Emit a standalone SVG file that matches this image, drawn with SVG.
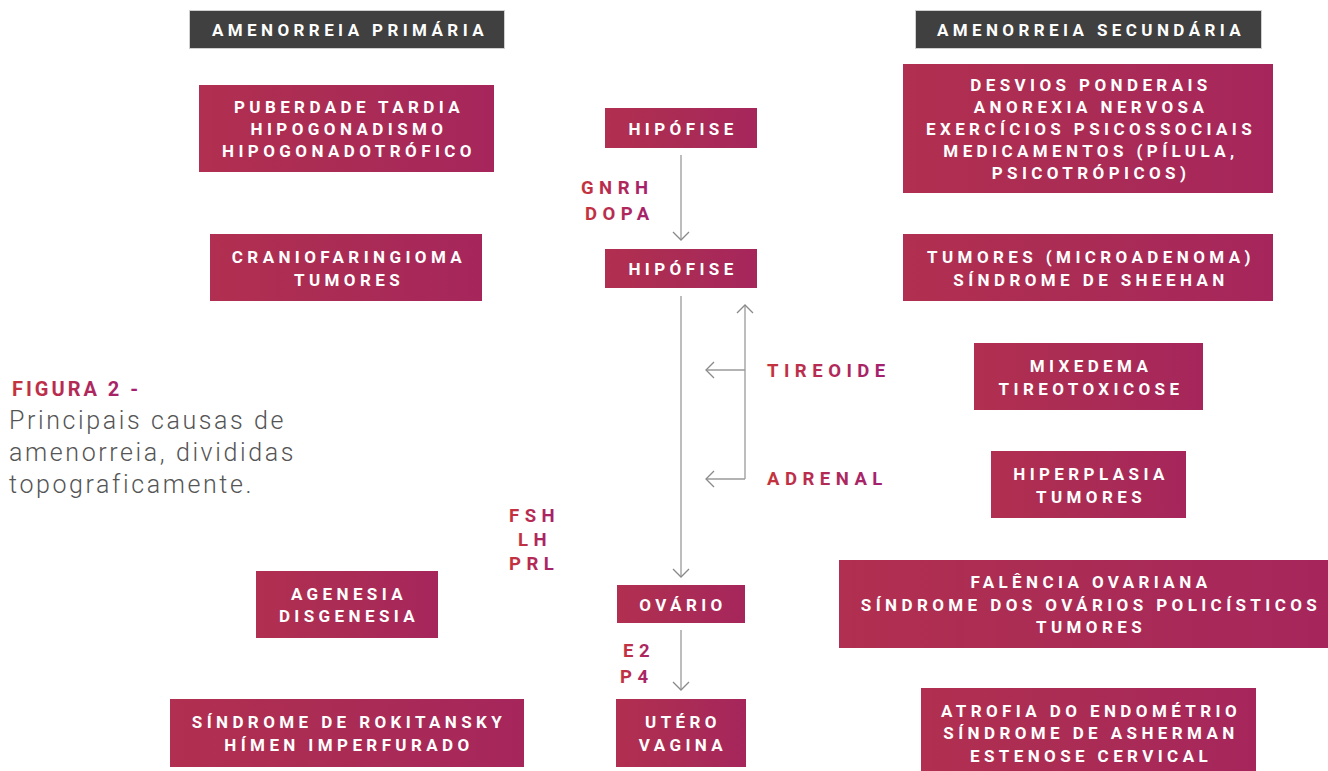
<svg xmlns="http://www.w3.org/2000/svg" width="1328" height="771" viewBox="0 0 1328 771">
<defs>
<linearGradient id="bg" x1="0" y1="0" x2="1" y2="0">
<stop offset="0" stop-color="#B12F50"/>
<stop offset="0.5" stop-color="#AA2C55"/>
<stop offset="1" stop-color="#A6265C"/>
</linearGradient>
<linearGradient id="tg" x1="0" y1="0" x2="1" y2="0">
<stop offset="0" stop-color="#C4343C"/>
<stop offset="1" stop-color="#A01F72"/>
</linearGradient>
<marker id="ah" viewBox="0 0 20 20" refX="10" refY="10" markerWidth="20" markerHeight="20" markerUnits="userSpaceOnUse" orient="auto">
<polyline points="2,2 10,10 2,18" fill="none" stroke="#8a8a8a" stroke-width="1.3"/>
</marker>
<style>
.box{fill:url(#bg)}
.hdr{fill:#404040;stroke:#cfcfcf;stroke-width:1}
.bt{font-family:Roboto,"Liberation Sans",sans-serif;font-weight:700;font-size:17px;letter-spacing:4.4px;fill:#fff;text-anchor:middle;dominant-baseline:central}
.lb{font-family:Roboto,"Liberation Sans",sans-serif;font-weight:700;font-size:18.5px;letter-spacing:5.5px;fill:url(#tg);dominant-baseline:central}
.ln{fill:none;stroke:#9a9a9a;stroke-width:1.3}
.cap{font-family:Roboto,"Liberation Sans",sans-serif;font-weight:300;font-size:25px;letter-spacing:2.6px;fill:#555}
</style>
</defs>
<rect width="1328" height="771" fill="#fff"/>

<g id="hdr-primaria"><rect class="hdr" x="189.5" y="10.5" width="315" height="38"/><text class="bt" x="350" y="30">AMENORREIA PRIMÁRIA</text></g>
<g id="hdr-secundaria"><rect class="hdr" x="915.5" y="10.5" width="346" height="38"/><text class="bt" x="1091" y="30">AMENORREIA SECUNDÁRIA</text></g>

<g id="n-puberdade"><rect class="box" x="199" y="85" width="295" height="87"/>
<text class="bt" x="349" y="107">PUBERDADE TARDIA</text>
<text class="bt" x="349" y="129">HIPOGONADISMO</text>
<text class="bt" x="349" y="151">HIPOGONADOTRÓFICO</text></g>

<g id="n-hipofise1"><rect class="box" x="605" y="108" width="152" height="40"/><text class="bt" x="683" y="129">HIPÓFISE</text></g>

<g id="n-desvios"><rect class="box" x="903" y="64" width="370" height="129"/>
<text class="bt" x="1091" y="85">DESVIOS PONDERAIS</text>
<text class="bt" x="1091" y="107">ANOREXIA NERVOSA</text>
<text class="bt" x="1091" y="129">EXERCÍCIOS PSICOSSOCIAIS</text>
<text class="bt" x="1091" y="151">MEDICAMENTOS (PÍLULA,</text>
<text class="bt" x="1091" y="173">PSICOTRÓPICOS)</text></g>

<g id="n-cranio"><rect class="box" x="210" y="234" width="272" height="67"/>
<text class="bt" x="349" y="257">CRANIOFARINGIOMA</text>
<text class="bt" x="349" y="280">TUMORES</text></g>

<g id="n-hipofise2"><rect class="box" x="605" y="249" width="152" height="39"/><text class="bt" x="683" y="269">HIPÓFISE</text></g>

<g id="n-tumores"><rect class="box" x="903" y="234" width="370" height="67"/>
<text class="bt" x="1091" y="257">TUMORES (MICROADENOMA)</text>
<text class="bt" x="1091" y="280">SÍNDROME DE SHEEHAN</text></g>

<g id="n-mixedema"><rect class="box" x="974" y="343" width="229" height="67"/>
<text class="bt" x="1091" y="366">MIXEDEMA</text>
<text class="bt" x="1091" y="389">TIREOTOXICOSE</text></g>

<g id="n-hiperplasia"><rect class="box" x="991" y="451" width="195" height="67"/>
<text class="bt" x="1091" y="474">HIPERPLASIA</text>
<text class="bt" x="1091" y="497">TUMORES</text></g>

<g id="n-agenesia"><rect class="box" x="256" y="571" width="182" height="67"/>
<text class="bt" x="349" y="594">AGENESIA</text>
<text class="bt" x="349" y="616">DISGENESIA</text></g>

<g id="n-ovario"><rect class="box" x="617" y="585" width="128" height="38"/><text class="bt" x="683" y="605">OVÁRIO</text></g>

<g id="n-falencia"><rect class="box" x="839" y="560" width="489" height="88"/>
<text class="bt" x="1091" y="582">FALÊNCIA OVARIANA</text>
<text class="bt" x="1091" y="605">SÍNDROME DOS OVÁRIOS POLICÍSTICOS</text>
<text class="bt" x="1091" y="627">TUMORES</text></g>

<g id="n-rokitansky"><rect class="box" x="170" y="699" width="354" height="68"/>
<text class="bt" x="349" y="722">SÍNDROME DE ROKITANSKY</text>
<text class="bt" x="349" y="745">HÍMEN IMPERFURADO</text></g>

<g id="n-utero"><rect class="box" x="616" y="699" width="130" height="68"/>
<text class="bt" x="683" y="722">UTÉRO</text>
<text class="bt" x="683" y="745">VAGINA</text></g>

<g id="n-atrofia"><rect class="box" x="921" y="688" width="335" height="83"/>
<text class="bt" x="1091" y="711">ATROFIA DO ENDOMÉTRIO</text>
<text class="bt" x="1091" y="733">SÍNDROME DE ASHERMAN</text>
<text class="bt" x="1091" y="756">ESTENOSE CERVICAL</text></g>

<g id="connectors">
<line class="ln" x1="681" y1="155" x2="681" y2="240" marker-end="url(#ah)"/>
<line class="ln" x1="681" y1="296" x2="681" y2="577" marker-end="url(#ah)"/>
<line class="ln" x1="681" y1="630" x2="681" y2="690" marker-end="url(#ah)"/>
<line class="ln" x1="745" y1="479" x2="745" y2="305" marker-end="url(#ah)"/>
<line class="ln" x1="745" y1="370" x2="706" y2="370" marker-end="url(#ah)"/>
<line class="ln" x1="745" y1="479" x2="706" y2="479" marker-end="url(#ah)"/>
</g>

<g id="labels">
<text class="lb" x="581" y="188">GNRH</text>
<text class="lb" x="585" y="214">DOPA</text>
<text class="lb" x="767" y="371">TIREOIDE</text>
<text class="lb" x="767" y="479">ADRENAL</text>
<text class="lb" x="509" y="516">FSH</text>
<text class="lb" x="518" y="540">LH</text>
<text class="lb" x="509" y="564">PRL</text>
<text class="lb" x="623" y="651">E2</text>
<text class="lb" x="620" y="677">P4</text>
</g>

<g id="caption">
<text class="lb" x="12" y="389" style="font-size:20px;letter-spacing:3px">FIGURA 2 -</text>
<text class="cap" x="9" y="429">Principais causas de</text>
<text class="cap" x="9" y="461">amenorreia, divididas</text>
<text class="cap" x="9" y="493">topograficamente.</text>
</g>
</svg>
